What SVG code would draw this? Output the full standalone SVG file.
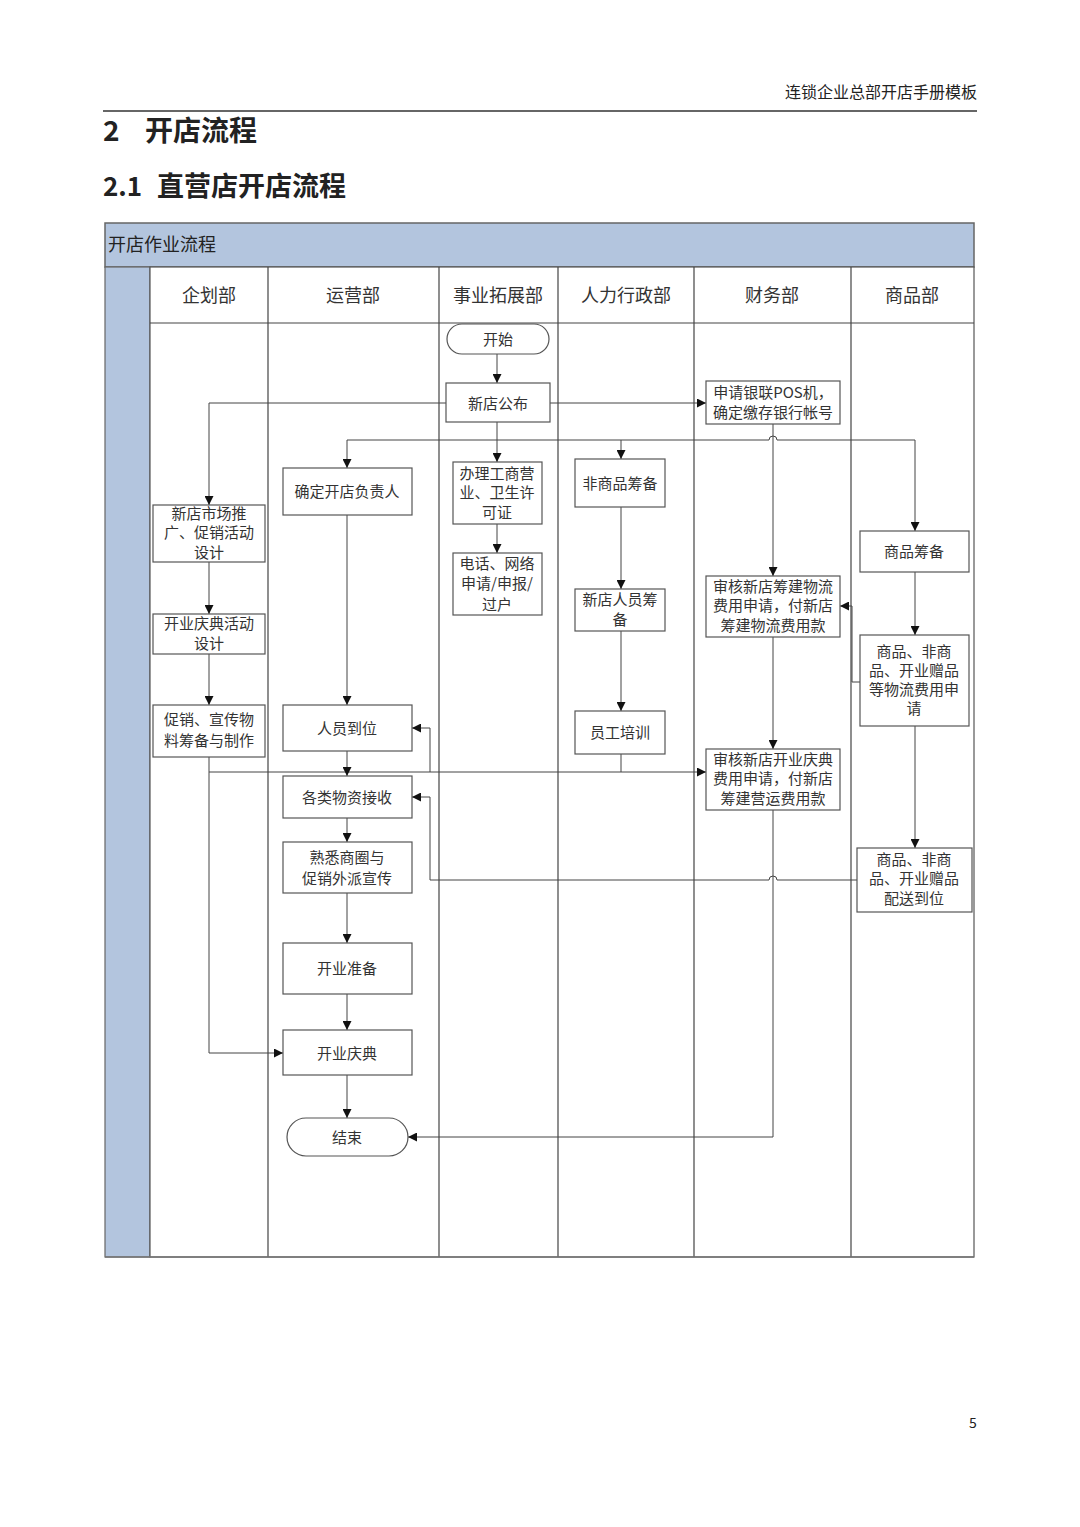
<svg xmlns="http://www.w3.org/2000/svg" width="1080" height="1527" viewBox="0 0 1080 1527">
<style>
.pg{font-family:"Noto Sans CJK SC","Liberation Sans",sans-serif;fill:#222}
.t{font-family:"Noto Sans CJK SC","Liberation Serif",serif;font-size:15px;fill:#333;text-anchor:middle;dominant-baseline:central}
.h{font-family:"Noto Sans CJK SC","Liberation Serif",serif;font-size:18px;fill:#333;text-anchor:middle;dominant-baseline:central}
.box{fill:#fff;stroke:#555;stroke-width:1.2}
.ln{fill:none;stroke:#444;stroke-width:1}
.lane{stroke:#444;stroke-width:1.2}
.arr{fill:none;stroke:#444;stroke-width:1;marker-end:url(#a)}
</style>
<defs>
<marker id="a" viewBox="0 0 10 10" refX="10" refY="5" markerWidth="9" markerHeight="9" markerUnits="userSpaceOnUse" orient="auto">
<path d="M0,0 L10,5 L0,10 z" fill="#111"/>
</marker>
</defs>
<rect width="1080" height="1527" fill="#fff"/>
<g id="page">
<text class="pg" x="977" y="98" font-size="16" text-anchor="end">连锁企业总部开店手册模板</text>
<line x1="103" y1="111" x2="977" y2="111" stroke="#333" stroke-width="1.6"/>
<text class="pg" x="103" y="141" font-size="28" font-weight="bold">2</text>
<text class="pg" x="145" y="141" font-size="28" font-weight="bold">开店流程</text>
<text class="pg" x="103" y="196" font-size="26" font-weight="bold">2.1</text>
<text class="pg" x="157" y="196" font-size="27" font-weight="bold">直营店开店流程</text>
<text class="pg" x="973" y="1428" font-size="14" text-anchor="middle">5</text>
</g>
<g id="frame">
<rect x="105" y="223" width="869" height="44" fill="#b3c5de" stroke="#666" stroke-width="1.5"/>
<text class="pg" x="108" y="243" font-size="18" dominant-baseline="central" fill="#222">开店作业流程</text>
<rect x="105" y="267" width="45" height="990" fill="#b3c5de" stroke="#666" stroke-width="1.2"/>
<rect x="150" y="267" width="824" height="990" fill="#fff" stroke="#555" stroke-width="1.2"/>
<line class="lane" x1="150" y1="323" x2="974" y2="323"/>
<line class="lane" x1="268" y1="267" x2="268" y2="1257"/>
<line class="lane" x1="439" y1="267" x2="439" y2="1257"/>
<line class="lane" x1="558" y1="267" x2="558" y2="1257"/>
<line class="lane" x1="694" y1="267" x2="694" y2="1257"/>
<line class="lane" x1="851" y1="267" x2="851" y2="1257"/>
<line x1="105" y1="1257" x2="974" y2="1257" stroke="#777" stroke-width="1.5"/>
<text class="h" x="209" y="294">企划部</text>
<text class="h" x="353" y="294">运营部</text>
<text class="h" x="498" y="294">事业拓展部</text>
<text class="h" x="626" y="294">人力行政部</text>
<text class="h" x="772" y="294">财务部</text>
<text class="h" x="912" y="294">商品部</text>
</g>
<g id="connectors">
<path class="arr" d="M497,354 V383"/>
<path class="arr" d="M446,403 H209 V505"/>
<path class="arr" d="M550,403 H706"/>
<path class="arr" d="M497,422 V462"/>
<path class="arr" d="M497,440 H347 V468"/>
<path class="arr" d="M497,440 H621 V459"/>
<path class="arr" d="M621,440 H769 a4,4 0 0 1 8,0 H915 V531"/>
<path class="arr" d="M773,424 V576"/>
<path class="arr" d="M773,637 V749"/>
<path class="arr" d="M773,810 V1137 H408"/>
<path class="arr" d="M497,524 V553"/>
<path class="arr" d="M621,507 V589"/>
<path class="arr" d="M621,631 V711"/>
<path class="arr" d="M621,754 V772 H706"/>
<path class="ln" d="M209,772 H621"/>
<path class="arr" d="M430,772 V728 H412"/>
<path class="arr" d="M209,757 V1053 H283"/>
<path class="arr" d="M347,515 V705"/>
<path class="arr" d="M347,751 V776"/>
<path class="arr" d="M347,818 V842"/>
<path class="arr" d="M347,893 V943"/>
<path class="arr" d="M347,994 V1030"/>
<path class="arr" d="M347,1075 V1118"/>
<path class="arr" d="M209,562 V614"/>
<path class="arr" d="M209,654 V705"/>
<path class="arr" d="M915,572 V635"/>
<path class="arr" d="M915,726 V848"/>
<path class="arr" d="M860,682 H852 V606 H840"/>
<path class="arr" d="M857,880 H777 a4,4 0 0 0 -8,0 H430 V797 H412"/>
</g>
<g id="n-start"><rect class="box" x="447" y="324" width="102" height="30" rx="15"/><text class="t" x="498" y="338">开始</text></g>
<g id="n-announce"><rect class="box" x="446" y="383" width="104" height="39"/><text class="t" x="498" y="402">新店公布</text></g>
<g id="n-pos"><rect class="box" x="706" y="381" width="134" height="43"/><text class="t" x="773" y="391">申请银联POS机，</text><text class="t" x="773" y="411">确定缴存银行帐号</text></g>
<g id="n-license"><rect class="box" x="453" y="462" width="89" height="62"/><text class="t" x="497" y="472">办理工商营</text><text class="t" x="497" y="491">业、卫生许</text><text class="t" x="497" y="511">可证</text></g>
<g id="n-phone"><rect class="box" x="453" y="553" width="89" height="62"/><text class="t" x="497" y="562">电话、网络</text><text class="t" x="497" y="582">申请/申报/</text><text class="t" x="497" y="603">过户</text></g>
<g id="n-owner"><rect class="box" x="283" y="468" width="129" height="47"/><text class="t" x="347" y="490">确定开店负责人</text></g>
<g id="n-nongoods"><rect class="box" x="575" y="459" width="90" height="48"/><text class="t" x="620" y="482">非商品筹备</text></g>
<g id="n-staffprep"><rect class="box" x="575" y="589" width="90" height="42"/><text class="t" x="620" y="598">新店人员筹</text><text class="t" x="620" y="618">备</text></g>
<g id="n-training"><rect class="box" x="575" y="711" width="90" height="43"/><text class="t" x="620" y="731">员工培训</text></g>
<g id="n-market"><rect class="box" x="153" y="505" width="112" height="57"/><text class="t" x="209" y="512">新店市场推</text><text class="t" x="209" y="531">广、促销活动</text><text class="t" x="209" y="551">设计</text></g>
<g id="n-ceremonydesign"><rect class="box" x="153" y="614" width="112" height="40"/><text class="t" x="209" y="622">开业庆典活动</text><text class="t" x="209" y="642">设计</text></g>
<g id="n-material"><rect class="box" x="153" y="705" width="112" height="52"/><text class="t" x="209" y="718">促销、宣传物</text><text class="t" x="209" y="739">料筹备与制作</text></g>
<g id="n-staffready"><rect class="box" x="283" y="705" width="129" height="46"/><text class="t" x="347" y="727">人员到位</text></g>
<g id="n-receive"><rect class="box" x="283" y="776" width="129" height="42"/><text class="t" x="347" y="796">各类物资接收</text></g>
<g id="n-area"><rect class="box" x="283" y="842" width="129" height="51"/><text class="t" x="347" y="856">熟悉商圈与</text><text class="t" x="347" y="877">促销外派宣传</text></g>
<g id="n-prepare"><rect class="box" x="283" y="943" width="129" height="51"/><text class="t" x="347" y="967">开业准备</text></g>
<g id="n-ceremony"><rect class="box" x="283" y="1030" width="129" height="45"/><text class="t" x="347" y="1052">开业庆典</text></g>
<g id="n-end"><rect class="box" x="287" y="1118" width="121" height="38" rx="19"/><text class="t" x="347" y="1136">结束</text></g>
<g id="n-logisticfee"><rect class="box" x="706" y="576" width="134" height="61"/><text class="t" x="773" y="585">审核新店筹建物流</text><text class="t" x="773" y="604">费用申请，付新店</text><text class="t" x="773" y="624">筹建物流费用款</text></g>
<g id="n-ceremonyfee"><rect class="box" x="706" y="749" width="134" height="61"/><text class="t" x="773" y="758">审核新店开业庆典</text><text class="t" x="773" y="777">费用申请，付新店</text><text class="t" x="773" y="797">筹建营运费用款</text></g>
<g id="n-goods"><rect class="box" x="860" y="531" width="109" height="41"/><text class="t" x="914" y="550">商品筹备</text></g>
<g id="n-goodsfee"><rect class="box" x="860" y="635" width="109" height="91"/><text class="t" x="914" y="650">商品、非商</text><text class="t" x="914" y="669">品、开业赠品</text><text class="t" x="914" y="688">等物流费用申</text><text class="t" x="914" y="707">请</text></g>
<g id="n-deliver"><rect class="box" x="857" y="848" width="115" height="64"/><text class="t" x="914" y="858">商品、非商</text><text class="t" x="914" y="877">品、开业赠品</text><text class="t" x="914" y="897">配送到位</text></g>
</svg>
